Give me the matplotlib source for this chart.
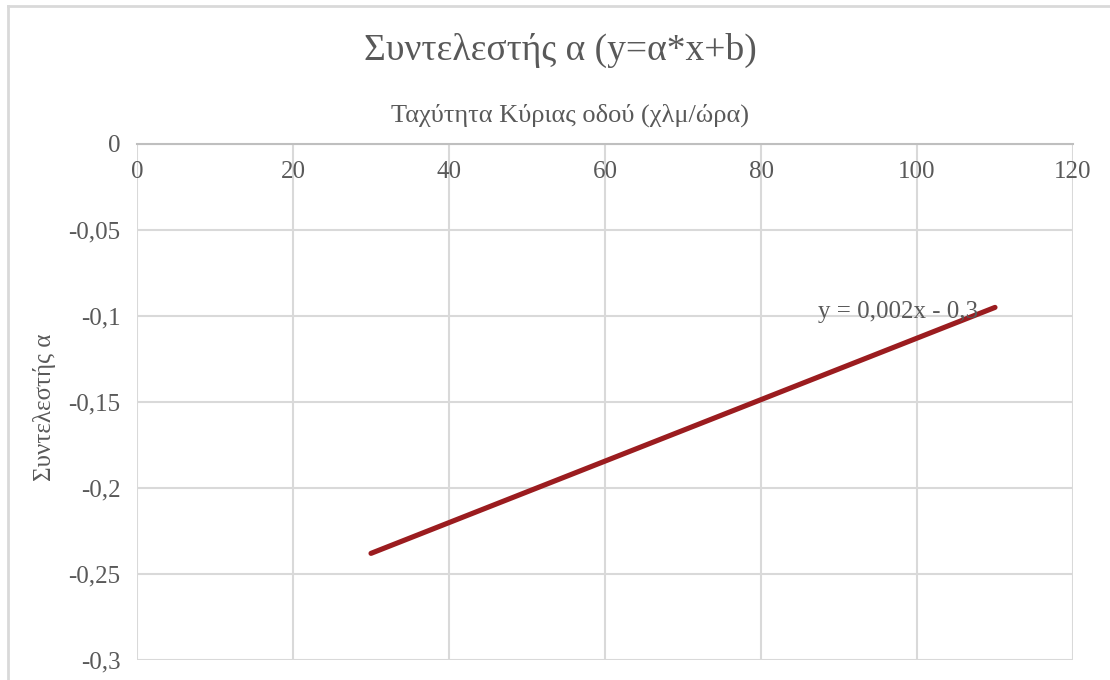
import matplotlib
matplotlib.use("Agg")
import matplotlib.pyplot as plt
from matplotlib.ticker import FuncFormatter, MultipleLocator
from matplotlib.lines import Line2D

# Speed of main road (km/h) and fitted coefficient a
speed = [30, 110]
coef_a = [-0.238, -0.095]

title = "Συντελεστής α (y=α*x+b)"
xlabel = "Ταχύτητα Κύριας οδού (χλμ/ώρα)"
ylabel = "Συντελεστής α"
trend_label = "y = 0,002x - 0,3"

plt.rcParams["font.family"] = ["Liberation Serif", "DejaVu Serif"]
text_col = "#595959"
grid_col = "#D9D9D9"

W, H = 1110, 680
fig = plt.figure(figsize=(W / 100, H / 100), dpi=100)
ax = fig.add_axes([137 / W, 1 - 660 / H, (1073 - 137) / W, (660 - 144) / H])

ax.plot(speed, coef_a, color="#9B1C1F", lw=3.7, solid_capstyle="round", zorder=3)

ax.set_xlim(0, 120)
ax.set_ylim(-0.3, 0)
ax.xaxis.set_major_locator(MultipleLocator(20))
ax.yaxis.set_major_locator(MultipleLocator(0.05))

def comma(v, pos):
    s = f"{v:.2f}".rstrip("0").rstrip(".")
    if s in ("-0", "0"):
        s = "0"
    return s.replace(".", ",")

ax.xaxis.set_major_formatter(FuncFormatter(lambda v, p: f"{v:.0f}"))
ax.yaxis.set_major_formatter(FuncFormatter(comma))

ax.grid(True, color=grid_col, lw=1.5, zorder=0)
for side in ("right", "bottom", "left"):
    ax.spines[side].set_visible(False)
ax.spines["top"].set_color("#BFBFBF")
ax.spines["top"].set_linewidth(1.5)
ax.spines["top"].set_zorder(2)

ax.xaxis.tick_top()
ax.tick_params(axis="both", length=0, labelsize=18, labelcolor=text_col)
ax.tick_params(axis="y", pad=12)
ax.tick_params(axis="x", pad=-28)

ax.text(87.3, -0.0977, trend_label, ha="left", va="center", fontsize=18, color=text_col, zorder=4)

fig.text(560 / W, 1 - 50 / H, title, ha="center", va="center", fontsize=27, color=text_col)
fig.text(570 / W, 1 - 115 / H, xlabel, ha="center", va="center", fontsize=19, color=text_col)
fig.text(45 / W, 1 - 407 / H, ylabel, ha="center", va="center", rotation=90, fontsize=18, color=text_col)

# chart frame
fig.add_artist(Line2D([8 / W, 8 / W], [0, 1 - 6 / H], color=grid_col, lw=2, transform=fig.transFigure))
fig.add_artist(Line2D([8 / W, 1], [1 - 6 / H, 1 - 6 / H], color=grid_col, lw=2, transform=fig.transFigure))

fig.savefig("out.png", dpi=100, facecolor="white")
